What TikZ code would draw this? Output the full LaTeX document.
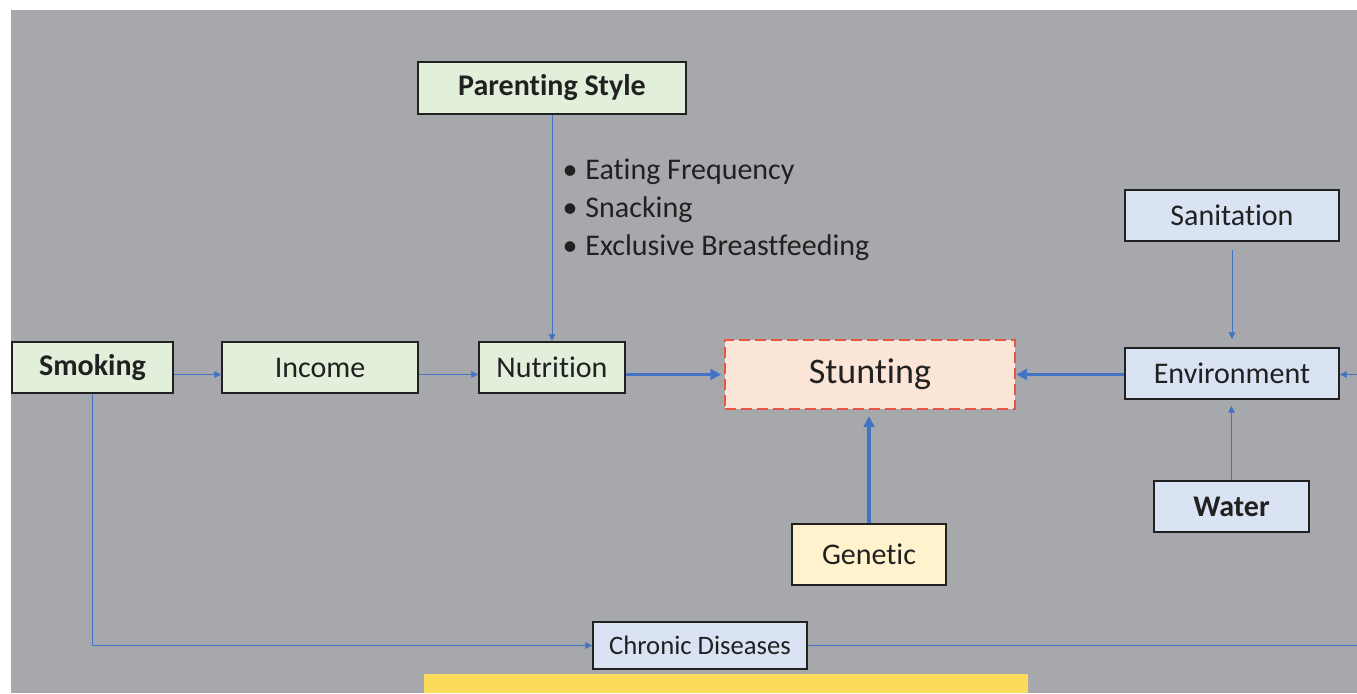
\documentclass[tikz,border=0pt]{standalone}
\usepackage{fontspec}
\setmainfont{Carlito}[Ligatures=NoCommon]
\usetikzlibrary{arrows.meta}

\definecolor{slidegray}{RGB}{167,168,172}
\definecolor{boxgreen}{RGB}{226,239,218}
\definecolor{boxblue}{RGB}{218,227,243}
\definecolor{boxpeach}{RGB}{251,229,214}
\definecolor{boxyellow}{RGB}{255,242,204}
\definecolor{linkblue}{RGB}{68,114,196}
\definecolor{stuntred}{RGB}{236,84,68}
\definecolor{inkgray}{RGB}{33,33,33}
\definecolor{baryellow}{RGB}{250,220,90}

\tikzset{every picture/.style={line width=0.75pt}}
\tikzset{
  factor/.style={draw=inkgray, line width=1.5pt, inner sep=0pt, text=inkgray,
    font=\fontsize{22.5}{27}\selectfont},
  greenfactor/.style={factor, fill=boxgreen},
  bluefactor/.style={factor, fill=boxblue},
  thinlink/.style={draw=linkblue, line width=0.6pt, -{Triangle[length=5pt,width=5pt]}},
  thicklink/.style={draw=linkblue, line width=2.4pt, -{Triangle[length=8pt,width=8pt]}}
}

\begin{document}
\begin{tikzpicture}[x=0.75pt,y=0.75pt,yscale=-1,xscale=1]
        \useasboundingbox (0,0) rectangle (1357,693);

        % slide background
        \fill[white] (0,0) rectangle (1357,693);
        \fill[slidegray] (11,10) rectangle (1357,693);
        \fill[baryellow] (424,674) rectangle (1028,693);

        % factors on the left
        \node[greenfactor, minimum width=201pt, minimum height=39pt] (parent) at (552,88) {\textbf{Parenting Style}};
        \node[greenfactor, minimum width=120.75pt, minimum height=38.25pt] (smoking) at (92.5,367.5) {\textbf{Smoking}};
        \node[greenfactor, minimum width=147pt, minimum height=38.25pt] (income) at (320,367.5) {Income};
        \node[greenfactor, minimum width=109.5pt, minimum height=38.25pt] (nutrition) at (552,367.5) {Nutrition};

        % outcome
        \node[factor, fill=boxpeach, draw=stuntred, line width=1.8pt, dash pattern=on 8pt off 4pt,
              font=\fontsize{27}{32}\selectfont, minimum width=217.5pt, minimum height=51.75pt] (stunting) at (870,374.5) {Stunting};

        % factors on the right
        \node[bluefactor, minimum width=160.5pt, minimum height=38.25pt] (sanitation) at (1232,215.5) {Sanitation};
        \node[bluefactor, minimum width=160.5pt, minimum height=38.25pt] (environment) at (1232,373.5) {Environment};
        \node[bluefactor, minimum width=116.25pt, minimum height=38.25pt] (water) at (1231.5,506.5) {\textbf{Water}};

        \node[factor, fill=boxyellow, minimum width=115.5pt, minimum height=45.75pt] (genetic) at (869,554.5) {Genetic};
        \node[bluefactor, font=\fontsize{20}{24}\selectfont, minimum width=160.5pt, minimum height=35.25pt] (chronic) at (700,645.5) {Chronic Diseases};

        % parenting items
        \node[anchor=north west, inner sep=0pt, align=left, text=inkgray,
              font=\fontsize{22.5}{28.5}\selectfont] (items) at (562,158)
              {\textbullet\hspace{6pt}Eating Frequency\\
               \textbullet\hspace{6pt}Snacking\\
               \textbullet\hspace{6pt}Exclusive Breastfeeding};

        % free ends at the right edge
        \coordinate (envin) at (1357,374.5);
        \coordinate (chronout) at (1357,645.5);

        % links
        \draw[thinlink] (smoking.east |- stunting.west) -- (income.west |- stunting.west);
        \draw[thinlink] (income.east |- stunting.west) -- (nutrition.west |- stunting.west);
        \draw[thinlink] (parent.south) -- (nutrition.north);
        \draw[thicklink, shorten >=2pt] (nutrition.east |- stunting.west) -- (stunting.west);
        \draw[thicklink] (environment.west |- stunting.east) -- (stunting.east);
        \draw[thicklink, shorten >=4.5pt] (genetic.north) -- (genetic.north |- stunting.south);
        \draw[thinlink, shorten <=6pt, shorten >=6pt] (sanitation.south) -- (environment.north);
        \draw[thinlink, shorten >=4.5pt] (water.north) -- (water.north |- environment.south);
        \draw[thinlink] (envin) -- (environment.east |- envin);
        \draw[thinlink] (smoking.south) |- (chronic.west);
        \draw[draw=linkblue, line width=0.6pt] (chronic.east) -- (chronout);
\end{tikzpicture}
\end{document}
